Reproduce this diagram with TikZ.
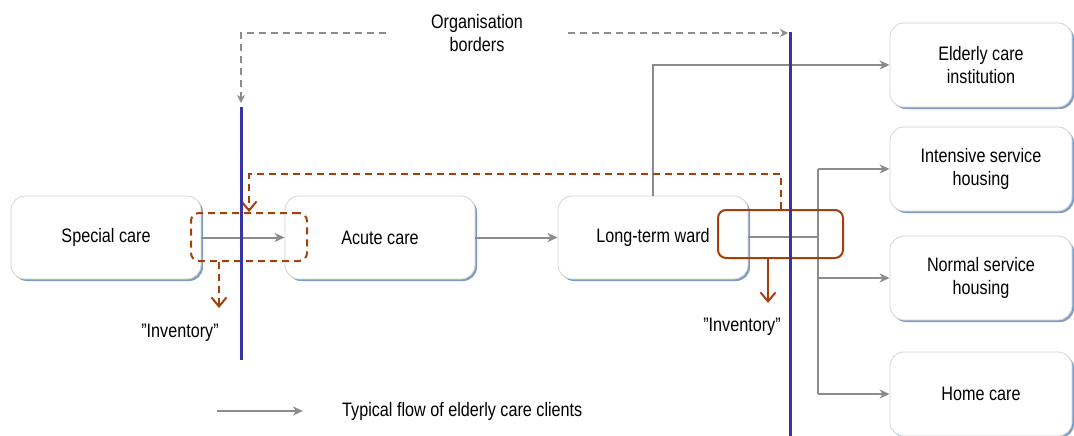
\documentclass[tikz,border=0pt]{standalone}
\usepackage{fontspec}
\setmainfont{Liberation Sans}[FakeStretch=0.83]
\usetikzlibrary{arrows.meta,shadows}
\definecolor{boxgray}{HTML}{D4D4D4}
\definecolor{shadowblue}{HTML}{7F9CC0}
\definecolor{linegray}{HTML}{8C8C8C}
\definecolor{orgblue}{HTML}{3535A5}
\definecolor{invred}{HTML}{A5400D}
\begin{document}
\begin{tikzpicture}[x=1pt,y=-1pt,
  font=\fontsize{19.5}{23}\selectfont,
  box/.style={draw=boxgray, line width=0.8pt, rounded corners=14pt, fill=white,
    minimum width=190pt, minimum height=83pt, align=center, inner sep=0pt,
    general shadow={shadow xshift=2pt, shadow yshift=-2pt, fill=shadowblue}},
  rbox/.style={box, minimum width=182pt, minimum height=84pt},
  lbl/.style={inner sep=0pt, align=center},
  gline/.style={draw=linegray, line width=2pt},
  flow/.style={gline, -{Stealth[length=10pt,width=9pt,inset=3pt]}},
  orgdash/.style={draw=linegray, line width=1.6pt, dash pattern=on 7pt off 5pt,
    -{Stealth[length=8pt,width=8pt,inset=2.5pt]}},
  orgline/.style={draw=orgblue, line width=3pt},
  invbox/.style={draw=invred, line width=2pt, rounded corners=8pt, inner sep=0pt},
  reddash/.style={draw=invred, line width=2pt, dash pattern=on 7pt off 5pt},
  redtip/.style={-{Straight Barb[length=9pt,width=15pt]}}
]
\useasboundingbox (0,0) rectangle (1074,436);

% boxes
\node[box] (special) at (106,237.5) {Special care};
\node[box] (acute) at (380,237.5) {Acute care};
\node[box] (longterm) at (653,237.5) {Long-term ward};
\node[rbox] (elderly) at (981,65) {Elderly care\\institution};
\node[rbox] (intensive) at (981,169) {Intensive service\\housing};
\node[rbox] (normal) at (981,278) {Normal service\\housing};
\node[rbox] (home) at (981,394) {Home care};

% organisation borders label
\node[lbl, inner xsep=45pt] (org) at (477,33) {Organisation\\borders};

% coordinates
\coordinate (b1t) at (241,107);
\coordinate (b1b) at (241,360);
\coordinate (b2t) at (790,32);
\coordinate (b2b) at (790,436);
\coordinate (split) at (818,237);
\coordinate (d1) at (219,308);
\coordinate (d2) at (768,303);
\coordinate (l1) at (217,411);
\coordinate (l2) at (303,411);

% gray flows
\draw[flow] (special) -- (acute);
\draw[flow] (acute) -- (longterm);
\draw[flow] (longterm.north) |- (elderly.west);
\draw[gline] (longterm.east |- split) -- (split);
\draw[gline] (split |- intensive.west) -- (split |- home.west);
\draw[flow] (split |- intensive.west) -- (intensive.west);
\draw[flow] (split |- normal.west) -- (normal.west);
\draw[flow] (split |- home.west) -- (home.west);

% organisation border pointers
\draw[orgdash, shorten >=4pt] (org.west) -| (b1t);
\draw[orgdash, shorten >=2pt] (org.east) -- (org.east -| b2t);

% inventory boxes
\node[invbox, dash pattern=on 7pt off 5pt, minimum width=116pt, minimum height=48pt] (inv1) at (249,237) {};
\node[invbox, minimum width=125pt, minimum height=48pt] (inv2) at (780.5,234) {};
\draw[reddash, redtip] (inv2.north) -- (inv2.north |- 0,174) -- (inv1.north |- 0,174) -- (inv1.north);
\draw[reddash, redtip] (inv1.south -| d1) -- (d1);
\draw[draw=invred, line width=2pt, redtip] (inv2.south -| d2) -- (d2);

% organisation borders
\draw[orgline] (b1t) -- (b1b);
\draw[orgline] (b2t) -- (b2b);

% labels
\node[lbl] (lab1) at (180,333) {”Inventory”};
\node[lbl] (lab2) at (742,327) {”Inventory”};

% legend
\draw[flow] (l1) -- (l2);
\node[lbl, anchor=west] (legend) at (342,411) {Typical flow of elderly care clients};
\end{tikzpicture}
\end{document}
